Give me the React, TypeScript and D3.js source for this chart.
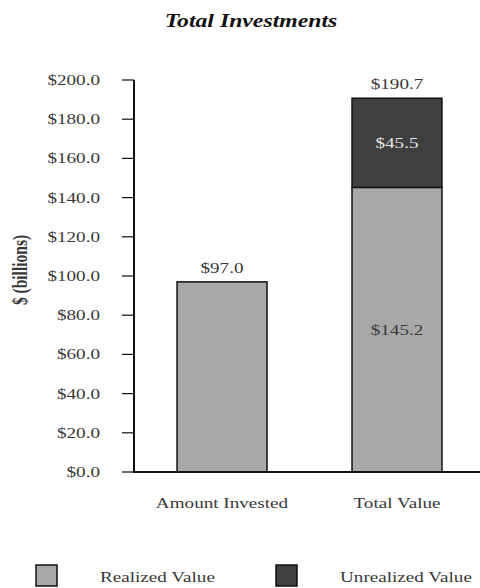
import React from "react";
import * as d3 from "d3";

const categories = ["Amount Invested", "Total Value"];
const realized = [97.0, 145.2];
const unrealized = [0, 45.5];
const totals = [97.0, 190.7];
const yTicks = [0, 20, 40, 60, 80, 100, 120, 140, 160, 180, 200];
const legendItems = ["Realized Value", "Unrealized Value"];

const W = 480;
const H = 588;
const SX = 1.32;
const FONT = "'Liberation Serif', 'Times New Roman', serif";
const LIGHT = "#a8a8a8";
const DARK = "#3f3f3f";
const TXT = "#383838";

function T({ x, y, children, size = 14.5, anchor = "middle", weight = "normal", style = "normal", fill = TXT }: any) {
  return (
    <text
      transform={`translate(${x},${y}) scale(${SX},1)`}
      fontSize={size}
      fontFamily={FONT}
      textAnchor={anchor}
      fontWeight={weight}
      fontStyle={style}
      fill={fill}
    >
      {children}
    </text>
  );
}

export default function App() {
  const y = d3.scaleLinear().domain([0, 200]).range([472, 80]);
  const x = d3.scaleBand().domain(categories).range([134, 485]).paddingInner(0.486).paddingOuter(0.246);
  const fmt = (v: number) => "$" + d3.format(".1f")(v);
  const bw = x.bandwidth();

  return (
    <svg width={W} height={H} style={{ position: "absolute", left: 0, top: 0, background: "#fff" }}>
      <T x={251} y={27} size={18} weight="bold" style="italic" fill="#111">Total Investments</T>

      {/* y axis title */}
      <text
        transform={`translate(27,270) rotate(-90) scale(1,1.3)`}
        fontSize={15.5}
        fontFamily={FONT}
        fontWeight="bold"
        textAnchor="middle"
        fill={TXT}
      >
        $ (billions)
      </text>

      {/* bars */}
      {categories.map((c, i) => (
        <g key={c}>
          <rect x={x(c)} y={y(realized[i])} width={bw} height={y(0) - y(realized[i])} fill={LIGHT} stroke="#111" strokeWidth={1.5} />
          {unrealized[i] > 0 && (
            <rect
              x={x(c)}
              y={y(realized[i] + unrealized[i])}
              width={bw}
              height={y(realized[i]) - y(realized[i] + unrealized[i])}
              fill={DARK}
              stroke="#111"
              strokeWidth={1.5}
            />
          )}
          <T x={x(c)! + bw / 2} y={y(totals[i]) - 9}>{fmt(totals[i])}</T>
          <T x={x(c)! + bw / 2} y={508}>{c}</T>
        </g>
      ))}
      <T x={x(categories[1])! + bw / 2} y={y(realized[1] + unrealized[1] / 2) + 5} fill="#e6e6e6">{fmt(unrealized[1])}</T>
      <T x={x(categories[1])! + bw / 2} y={y(realized[1] / 2) + 5}>{fmt(realized[1])}</T>

      {/* axes */}
      <line x1={134} x2={134} y1={y(200)} y2={y(0) + 1} stroke="#111" strokeWidth={2} />
      <line x1={133} x2={W} y1={y(0)} y2={y(0)} stroke="#111" strokeWidth={2} />
      {yTicks.map((t) => (
        <g key={t}>
          <line x1={122} x2={134} y1={y(t)} y2={y(t)} stroke="#111" strokeWidth={1.2} />
          <T x={100} y={y(t) + 5} anchor="end">{fmt(t)}</T>
        </g>
      ))}

      {/* legend */}
      {legendItems.map((l, i) => (
        <g key={l}>
          <rect x={36 + i * 240} y={565} width={21} height={21} fill={i === 0 ? LIGHT : DARK} stroke="#111" strokeWidth={1.5} />
          <T x={100 + i * 240} y={582} anchor="start">{l}</T>
        </g>
      ))}
    </svg>
  );
}
